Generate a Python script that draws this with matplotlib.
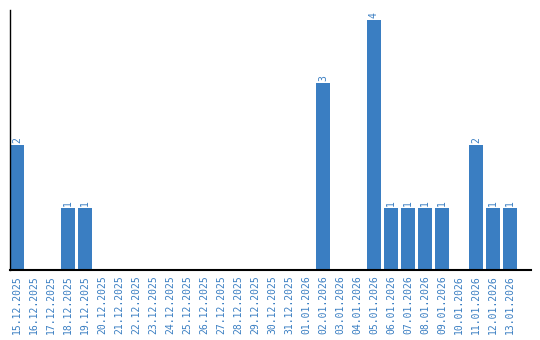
import matplotlib
matplotlib.use("Agg")
import matplotlib.pyplot as plt

dates = ["15.12.2025", "16.12.2025", "17.12.2025", "18.12.2025", "19.12.2025",
         "20.12.2025", "21.12.2025", "22.12.2025", "23.12.2025", "24.12.2025",
         "25.12.2025", "26.12.2025", "27.12.2025", "28.12.2025", "29.12.2025",
         "30.12.2025", "31.12.2025", "01.01.2026", "02.01.2026", "03.01.2026",
         "04.01.2026", "05.01.2026", "06.01.2026", "07.01.2026", "08.01.2026",
         "09.01.2026", "10.01.2026", "11.01.2026", "12.01.2026", "13.01.2026"]
counts = [2, 0, 0, 1, 1, 0, 0, 0, 0, 0, 0, 0, 0, 0, 0, 0, 0, 0, 3, 0,
          0, 4, 1, 1, 1, 1, 0, 2, 1, 1]

blue = "#3a7ec2"
plt.rcParams['font.family'] = ['DejaVu Sans Mono']

fig = plt.figure(figsize=(5.4, 3.4), dpi=100)
ax = fig.add_axes([10 / 540, 70 / 340, 521 / 540, 260 / 340])

x = list(range(len(dates)))
ax.bar(x, counts, width=0.82, color=blue)
for xi, c in zip(x, counts):
    if c > 0:
        ax.text(xi, c + 0.03, str(c), rotation=90, ha="center", va="bottom",
                color=blue, fontsize=7)

ax.set_xlim(-0.41, 30.24)
ax.set_ylim(0, 4.16)
ax.set_xticks(x)
ax.set_xticklabels(dates, rotation=90, color=blue, fontsize=7)
ax.tick_params(axis="x", length=0, pad=4)
ax.set_yticks([])
ax.spines["top"].set_visible(False)
ax.spines["right"].set_visible(False)
ax.spines["left"].set_linewidth(1)
ax.spines["bottom"].set_linewidth(1.5)

fig.savefig("out.png", dpi=100)
